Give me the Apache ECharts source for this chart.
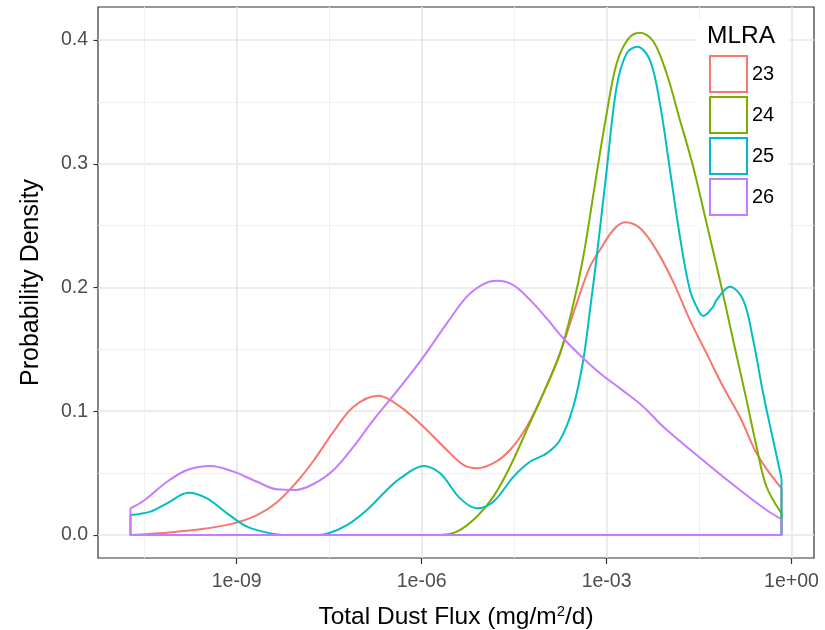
<!DOCTYPE html>
<html>
<head>
<meta charset="utf-8">
<script src="https://cdn.jsdelivr.net/npm/echarts@6/dist/echarts.min.js"></script>
<style>
html,body{margin:0;padding:0;background:#fff;}
#chart{width:825px;height:630px;}
</style>
</head>
<body>
<div id="chart"></div>
<script>
// ---- data (x in log10 of Total Dust Flux, y = probability density) ----
const groups = ['23', '24', '25', '26'];

const logFlux23 = [-10.724,-10.130,-9.590,-9.050,-8.671,-8.347,-8.023,-7.754,-7.429,-7.105,-6.700,-6.349,-5.971,-5.592,-5.322,-5.105,-4.836,-4.566,-4.295,-4.026,-3.755,-3.485,-3.269,-3.107,-2.891,-2.702,-2.459,-2.188,-1.919,-1.648,-1.378,-1.109,-0.838,-0.567,-0.352,-0.162];
const density23 = [0,0.0019,0.0046,0.0094,0.016,0.0265,0.043,0.060,0.0835,0.1037,0.1125,0.1037,0.0875,0.0687,0.0566,0.0539,0.058,0.0687,0.0875,0.1145,0.1468,0.1872,0.2168,0.2303,0.2465,0.2527,0.248,0.230,0.2045,0.1737,0.1468,0.1198,0.0956,0.066,0.0498,0.0377];

const logFlux24 = [-10.724,-5.754,-5.429,-5.105,-4.836,-4.566,-4.295,-4.026,-3.755,-3.560,-3.378,-3.160,-2.998,-2.836,-2.648,-2.459,-2.243,-2.026,-1.810,-1.595,-1.378,-1.162,-0.947,-0.729,-0.567,-0.405,-0.162];
const density24 = [0,0,0.0027,0.0148,0.031,0.0552,0.0848,0.1145,0.1468,0.182,0.2249,0.2923,0.3408,0.3812,0.401,0.4059,0.399,0.373,0.3354,0.2976,0.2519,0.206,0.1576,0.109,0.0714,0.039,0.0175];

const logFlux25 = [-10.724,-10.400,-10.130,-9.780,-9.481,-9.157,-8.833,-8.509,-8.185,-7.750,-7.536,-7.212,-6.888,-6.564,-6.349,-5.971,-5.700,-5.376,-5.105,-4.836,-4.512,-4.242,-3.971,-3.755,-3.540,-3.378,-3.269,-3.160,-2.998,-2.836,-2.674,-2.502,-2.297,-2.135,-1.972,-1.810,-1.648,-1.514,-1.433,-1.271,-1.216,-1.000,-0.784,-0.622,-0.460,-0.298,-0.162];
const density25 = [0.0162,0.0189,0.0256,0.0342,0.0296,0.0175,0.0067,0.0019,0,0,0.001,0.008,0.0202,0.0364,0.0457,0.0558,0.0498,0.0296,0.0216,0.0269,0.047,0.0592,0.066,0.0768,0.1037,0.1414,0.1818,0.2249,0.295,0.3623,0.3892,0.3946,0.3838,0.3488,0.295,0.241,0.198,0.1818,0.177,0.1845,0.19,0.2006,0.19,0.1576,0.1145,0.0768,0.0458];

const logFlux26 = [-10.724,-10.509,-10.130,-9.805,-9.428,-9.050,-8.671,-8.347,-8.050,-7.754,-7.429,-7.105,-6.781,-6.349,-5.971,-5.592,-5.267,-4.998,-4.781,-4.512,-4.242,-3.971,-3.702,-3.378,-3.107,-2.783,-2.405,-2.081,-1.378,-0.838,-0.405,-0.162];
const density26 = [0.0216,0.0277,0.043,0.0525,0.0558,0.0512,0.043,0.0369,0.0364,0.0412,0.0525,0.0714,0.093,0.1195,0.144,0.171,0.1926,0.2028,0.2055,0.202,0.19,0.175,0.159,0.1428,0.1307,0.1185,0.1037,0.0875,0.058,0.0364,0.0202,0.0127];

const xMajorTicks = [-9, -6, -3, 0];
const xTickLabels = ['1e-09', '1e-06', '1e-03', '1e+00'];
const xMinorTicks = [-10.5, -7.5, -4.5, -1.5];
const yMajorTicks = [0, 0.1, 0.2, 0.3, 0.4];
const yTickLabels = ['0.0', '0.1', '0.2', '0.3', '0.4'];
const yMinorTicks = [0.05, 0.15, 0.25, 0.35];

// ---- styles ----
const COLORS = ['#F8766D', '#7CAE00', '#00BFC4', '#C77CFF'];
const FONT = '"Liberation Sans", Arial, sans-serif';
const X_MIN = -11.25, X_MAX = 0.365;
const Y_MIN = -0.0186, Y_MAX = 0.4267;

const xs = [logFlux23, logFlux24, logFlux25, logFlux26];
const ys = [density23, density24, density25, density26];

const series = [];
groups.forEach((g, i) => {
  const pts = xs[i].map((x, k) => [x, ys[i][k]]);
  const n = pts.length;
  series.push({
    name: g, type: 'line', data: pts, smooth: 0.35,
    symbol: 'none', silent: true, z: 2 + i * 2,
    lineStyle: { color: COLORS[i], width: 2 }, itemStyle: { color: COLORS[i] }
  });
  series.push({
    name: g, type: 'line', smooth: false, symbol: 'none', silent: true, z: 3 + i * 2,
    data: [[xs[i][n - 1], ys[i][n - 1]], [xs[i][n - 1], 0], [xs[i][0], 0], [xs[i][0], ys[i][0]]],
    lineStyle: { color: COLORS[i], width: 2 }, itemStyle: { color: COLORS[i] }
  });
});

const chart = echarts.init(document.getElementById('chart'), null, { renderer: 'canvas' });
chart.setOption({
  animation: false,
  backgroundColor: '#fff',
  title: {
    text: 'MLRA', left: 707, top: 24, padding: 0,
    textStyle: { fontFamily: FONT, fontSize: 24.5, fontWeight: 'normal', color: '#000' }
  },
  legend: {
    orient: 'vertical', left: 695, top: 19,
    padding: [36, 14, 14, 14],
    backgroundColor: '#fff',
    itemWidth: 37, itemHeight: 36, itemGap: 3,
    icon: 'rect',
    data: groups.map((g, i) => ({
      name: g,
      itemStyle: { color: '#fff', borderColor: COLORS[i], borderWidth: 2 }
    })),
    textStyle: { fontFamily: FONT, fontSize: 20, color: '#000' },
    selectedMode: false
  },
  grid: {
    left: 98, top: 7, right: 11, bottom: 72,
    show: true, borderColor: '#333', borderWidth: 1.2, backgroundColor: '#fff',
    containLabel: false, outerBoundsMode: 'none'
  },
  xAxis: [{
    type: 'value', min: X_MIN, max: X_MAX, position: 'bottom',
    name: 'Total Dust Flux (mg/m{sup|2}/d)', nameLocation: 'middle', nameGap: 46,
    nameTextStyle: {
      fontFamily: FONT, fontSize: 24.5, color: '#000',
      rich: { sup: { fontFamily: FONT, fontSize: 15, verticalAlign: 'top', padding: [0, 0, 12, 0], color: '#000' } }
    },
    axisLine: { show: false, onZero: false },
    axisTick: { show: true, customValues: xMajorTicks, length: 6, lineStyle: { color: '#333', width: 1.2 } },
    axisLabel: {
      customValues: xMajorTicks, margin: 14, fontFamily: FONT, fontSize: 19.5, color: '#4D4D4D',
      formatter: v => xTickLabels[xMajorTicks.findIndex(t => Math.abs(t - v) < 1e-9)]
    },
    splitLine: { show: true, lineStyle: { color: '#E6E6E6', width: 1.6 } }
  }, {
    type: 'value', min: X_MIN, max: X_MAX, position: 'top',
    axisLine: { show: false, onZero: false },
    axisTick: { show: false, customValues: xMinorTicks },
    axisLabel: { show: false, customValues: xMinorTicks },
    splitLine: { show: true, lineStyle: { color: '#F0F0F0', width: 1 } }
  }],
  yAxis: [{
    type: 'value', min: Y_MIN, max: Y_MAX, position: 'left',
    name: 'Probability Density', nameLocation: 'middle', nameGap: 54, nameRotate: 90,
    nameTextStyle: { fontFamily: FONT, fontSize: 25, color: '#000' },
    axisLine: { show: false, onZero: false },
    axisTick: { show: true, customValues: yMajorTicks, length: 4.5, lineStyle: { color: '#333', width: 1.2 } },
    axisLabel: {
      customValues: yMajorTicks, margin: 10, fontFamily: FONT, fontSize: 19.5, color: '#4D4D4D',
      formatter: v => yTickLabels[yMajorTicks.findIndex(t => Math.abs(t - v) < 1e-9)]
    },
    splitLine: { show: true, lineStyle: { color: '#E6E6E6', width: 1.6 } }
  }, {
    type: 'value', min: Y_MIN, max: Y_MAX, position: 'right',
    axisLine: { show: false, onZero: false },
    axisTick: { show: false, customValues: yMinorTicks },
    axisLabel: { show: false, customValues: yMinorTicks },
    splitLine: { show: true, lineStyle: { color: '#F0F0F0', width: 1 } }
  }],
  series: series
});
</script>
</body>
</html>
